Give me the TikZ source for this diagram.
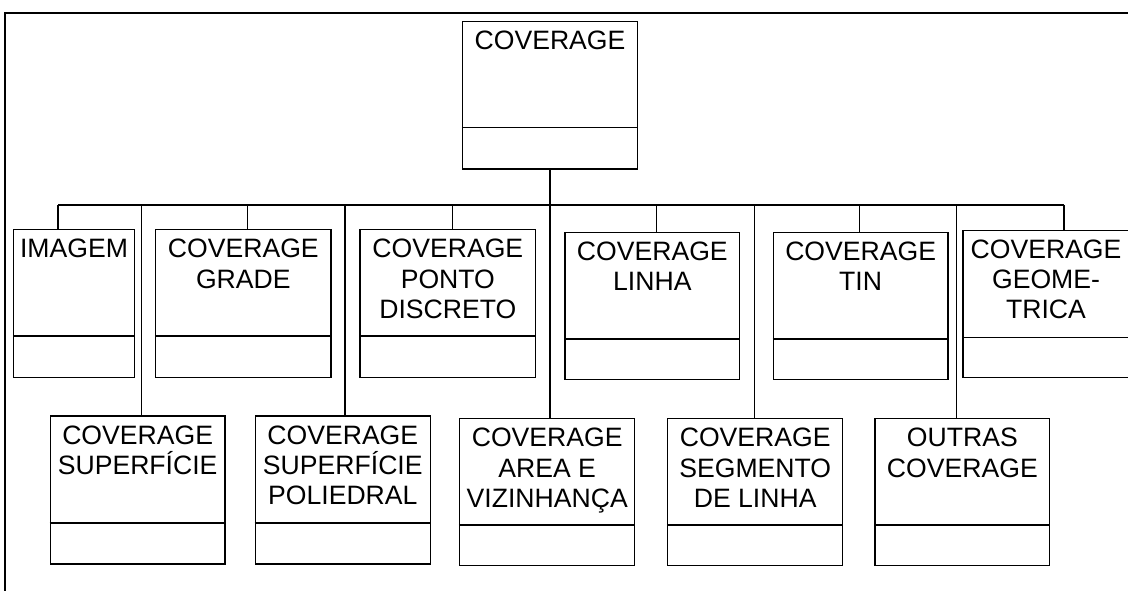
\documentclass[tikz,border=0pt]{standalone}
\usepackage{fontspec}
\setmainfont{Liberation Sans}
\usetikzlibrary{fit}
\tikzset{
  cls/.style={draw, line width=1.5pt, inner sep=0pt},
  lbl/.style={anchor=north, inner sep=0pt, align=center, font=\fontsize{26.6}{30.3}\selectfont},
  wire/.style={line width=1.5pt},
  frame/.style={line width=2pt},
}
\newcommand\umlbox[7]{%
  \node[cls, fit={(#2,#3) (#4,#5)}] (#1) {};
  \draw[wire] (#1.west |- 0,#6) -- (#1.east |- 0,#6);
  \node[lbl] (#1-t) at ([yshift=-10pt]#1.north) {#7};
}
\begin{document}
\begin{tikzpicture}[x=1pt,y=-1pt]
\useasboundingbox (0,0) rectangle (1128,591);
\clip (0,0) rectangle (1128,591);
\draw[frame] (5,600) -- (5,13) -- (1140,13);

% top class
\umlbox{cov}{462.7}{21.7}{637.3}{169}{127.7}{COVERAGE}

% first row
\umlbox{img}{13.7}{229.7}{134.3}{377.3}{336}{IMAGEM}
\umlbox{grade}{155.7}{229.7}{331}{377.3}{336}{COVERAGE\\GRADE}
\umlbox{ponto}{360}{229.7}{535.7}{377.3}{336}{COVERAGE\\PONTO\\DISCRETO}
\umlbox{linha}{565}{232.3}{739.7}{379.3}{339}{COVERAGE\\LINHA}
\umlbox{tin}{773.3}{232.3}{948}{379.3}{339}{COVERAGE\\TIN}
\umlbox{geo}{963}{230.3}{1129}{377.7}{337.7}{COVERAGE\\GEOME-\\TRICA}

% second row
\umlbox{sup}{50.3}{416}{225}{564}{523}{COVERAGE\\SUPERFÍCIE}
\umlbox{poli}{255.3}{416}{430.3}{564}{523}{COVERAGE\\SUPERFÍCIE\\POLIEDRAL}
\umlbox{area}{459.7}{418.7}{634.7}{565.3}{525}{COVERAGE\\AREA E\\VIZINHANÇA}
\umlbox{seg}{667.7}{418.7}{842.7}{565.3}{525}{COVERAGE\\SEGMENTO\\DE LINHA}
\umlbox{outras}{875}{418.7}{1049.7}{565.3}{525}{OUTRAS\\COVERAGE}

% bus and connectors
\coordinate (b-img) at (58,205);
\coordinate (b-sup) at (141.7,205);
\coordinate (b-grade) at (247.7,205);
\coordinate (b-poli) at (345,205);
\coordinate (b-ponto) at (452.3,205);
\coordinate (b-area) at (550,205);
\coordinate (b-linha) at (656.7,205);
\coordinate (b-seg) at (754.7,205);
\coordinate (b-tin) at (859.3,205);
\coordinate (b-outras) at (956.7,205);
\coordinate (b-geo) at (1064,205);

\draw[wire] (b-img) -- (b-geo);
\draw[wire] (cov.south) -- (b-area);
\foreach \n in {img,sup,grade,poli,ponto,area,linha,seg,tin,outras,geo}
  \draw[wire] (b-\n) -- (b-\n |- \n.north);
\end{tikzpicture}
\end{document}
